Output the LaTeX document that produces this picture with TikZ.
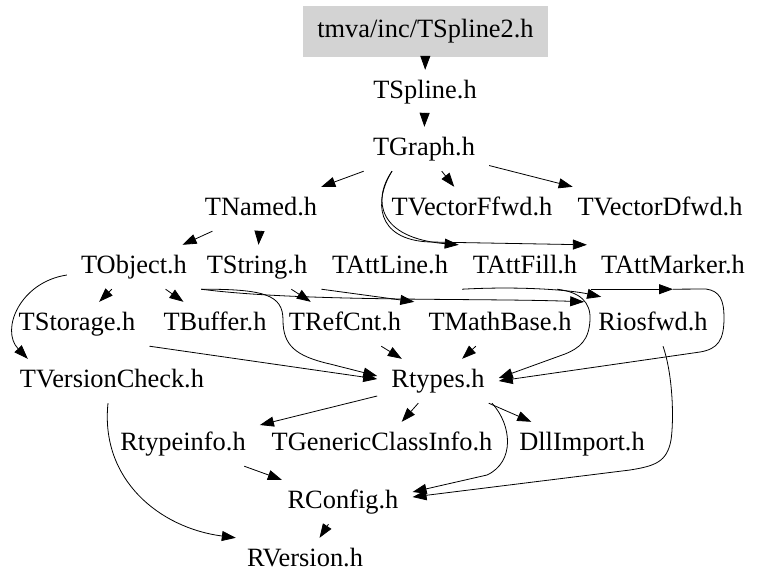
\documentclass[tikz,border=0pt]{standalone}
\usepackage{fontspec}
\setmainfont{Liberation Serif}
\usepackage{tikz}
\usetikzlibrary{arrows.meta}
\definecolor{incgray}{RGB}{211, 211, 211}
\definecolor{incblack}{RGB}{0, 0, 0}
\tikzset{
    incnode/.style={inner xsep=14pt, inner ysep=0pt, minimum height=44pt, text height=18pt, text depth=6pt, font=\fontsize{26.4}{30}\selectfont},
    rootnode/.style={incnode, fill=incgray, minimum width=239pt, minimum height=51pt},
    incedge/.style={draw=incblack, line width=0.8pt, -{Triangle[length=14pt, width=10pt]}}
}

\begin{document}
\begin{tikzpicture}[x=1pt, y=-1pt]
    \useasboundingbox (0,0) rectangle (761,587);
    \node[rootnode] (TSpline2) at (425.5,31) {tmva/inc/TSpline2.h};
    \node[incnode] (TSpline) at (425,92) {TSpline.h};
    \node[incnode] (TGraph) at (424,149) {TGraph.h};
    \node[incnode] (TNamed) at (261,209) {TNamed.h};
    \node[incnode] (TVectorFfwd) at (472,209) {TVectorFfwd.h};
    \node[incnode] (TVectorDfwd) at (660,209) {TVectorDfwd.h};
    \node[incnode] (TObject) at (134,267) {TObject.h};
    \node[incnode] (TString) at (257,267) {TString.h};
    \node[incnode] (TAttLine) at (390,267) {TAttLine.h};
    \node[incnode] (TAttFill) at (525,267) {TAttFill.h};
    \node[incnode] (TAttMarker) at (673,267) {TAttMarker.h};
    \node[incnode] (TStorage) at (77,324) {TStorage.h};
    \node[incnode] (TBuffer) at (215,324) {TBuffer.h};
    \node[incnode] (TRefCnt) at (345,324) {TRefCnt.h};
    \node[incnode] (TMathBase) at (500,324) {TMathBase.h};
    \node[incnode] (Riosfwd) at (653,324) {Riosfwd.h};
    \node[incnode] (TVersionCheck) at (112,381) {TVersionCheck.h};
    \node[incnode] (Rtypes) at (438,381) {Rtypes.h};
    \node[incnode] (Rtypeinfo) at (183,444) {Rtypeinfo.h};
    \node[incnode] (TGenericClassInfo) at (382,444) {TGenericClassInfo.h};
    \node[incnode] (DllImport) at (582,444) {DllImport.h};
    \node[incnode] (RConfig) at (343,502) {RConfig.h};
    \node[incnode] (RVersion) at (305,560) {RVersion.h};

    \draw[incedge] (TSpline2) -- (TSpline);
    \draw[incedge] (TSpline) -- (TGraph);
    \draw[incedge] (TGraph) -- (TNamed);
    \draw[incedge] (TGraph) -- (TVectorFfwd);
    \draw[incedge] (TGraph) -- (TVectorDfwd);
    \draw[incedge] ([xshift=-32pt]TGraph.south) .. controls (372,200) and (378,238) .. (TAttFill.north west);
    \draw[incedge] ([xshift=-32pt]TGraph.south) .. controls (374,200) and (375,240) .. (430,242) -- (TAttMarker.north west);
    \draw[incedge] (TNamed) -- (TObject);
    \draw[incedge] (TNamed) -- (TString);
    \draw[incedge] (TObject) -- (TStorage);
    \draw[incedge] (TObject) -- (TBuffer);
    \draw[incedge] ([yshift=-8pt]TObject.west) .. controls (20,282) and (0,330) .. ([xshift=22pt]TVersionCheck.north west);
    \draw[incedge] (TObject.south east) .. controls (265,289) and (283,295) .. (283,320)
        .. controls (283,345) and (295,356) .. (330,364) -- ([yshift=5pt]Rtypes.west);
    \draw[incedge] (TObject.south east) .. controls (300,302) and (480,298) .. (Riosfwd.north west);
    \draw[incedge] (TString) -- (TRefCnt);
    \draw[incedge] (TString.south east) -- (TMathBase.north west);
    \draw[incedge] (TAttLine.south east) .. controls (520,286) and (570,290) .. ([xshift=17pt, yshift=5pt]Riosfwd.north west);
    \draw[incedge] (TAttFill.south east) -- (TAttMarker.south);
    \draw[incedge] ([xshift=32pt]TAttFill.south) .. controls (580,292) and (591,302) .. (590,320)
        .. controls (589,340) and (580,348) .. (565,354) -- ([yshift=3pt]Rtypes.east);
    \draw[incedge] (TAttMarker.south) -- (706,289) .. controls (720,291) and (724,300) .. (724,318)
        .. controls (724,340) and (718,349) .. (700,352) -- (Rtypes.east);
    \draw[incedge] (TStorage.south east) -- ([yshift=2pt]Rtypes.west);
    \draw[incedge] (TRefCnt) -- (Rtypes);
    \draw[incedge] (TMathBase) -- (Rtypes);
    \draw[incedge] ([xshift=10pt]Riosfwd.south) .. controls (673,375) and (674,420) .. (671,440)
        .. controls (667,462) and (655,466) .. (630,470) -- ([yshift=5pt]RConfig.east);
    \draw[incedge] ([xshift=-4pt]TVersionCheck.south) .. controls (100,480) and (160,528) .. ([xshift=3pt]RVersion.north west);
    \draw[incedge] (Rtypes) -- (Rtypeinfo);
    \draw[incedge] (Rtypes) -- (TGenericClassInfo);
    \draw[incedge] (Rtypes) -- (DllImport);
    \draw[incedge] ([xshift=54pt]Rtypes.south) .. controls (512,425) and (515,462) .. (487,475) -- ([yshift=10pt]RConfig.east);
    \draw[incedge] (Rtypeinfo) -- (RConfig);
    \draw[incedge] (RConfig) -- (RVersion);
\end{tikzpicture}
\end{document}
